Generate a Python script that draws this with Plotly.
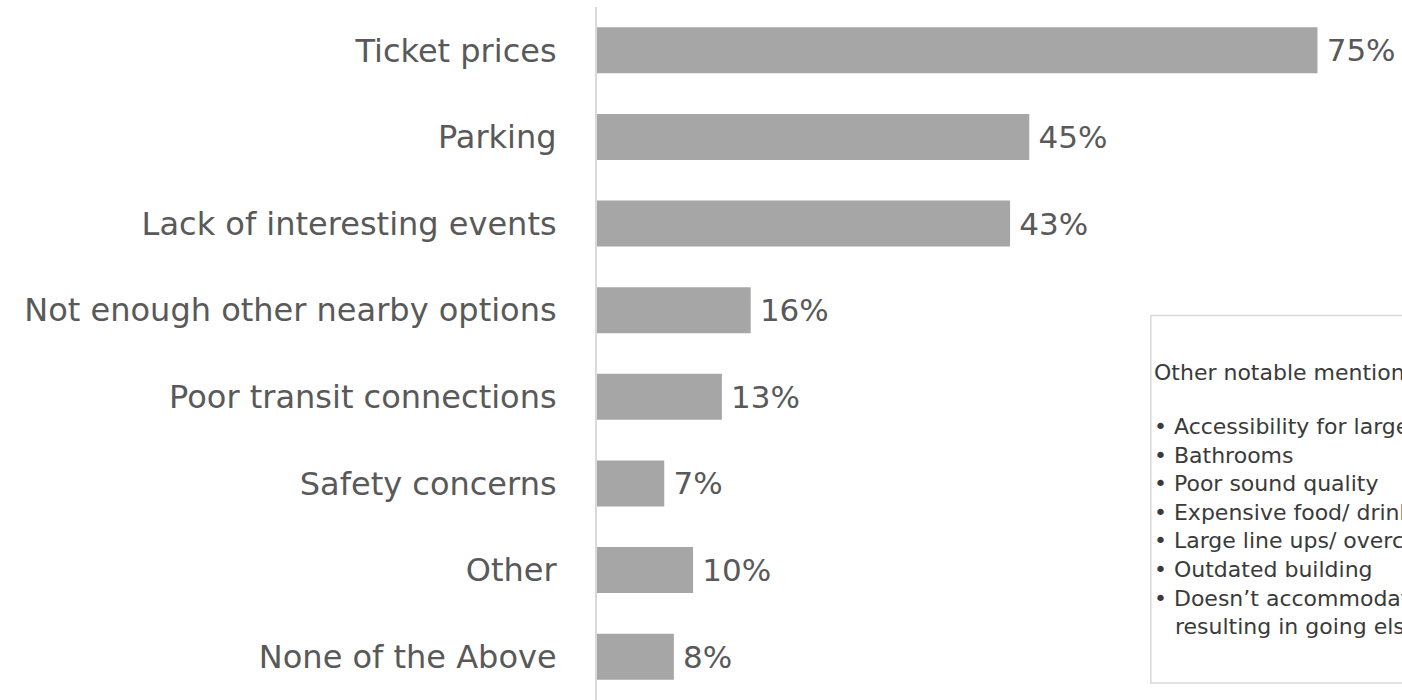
import plotly.graph_objects as go

# categories top to bottom as shown
categories = ["Ticket prices", "Parking", "Lack of interesting events",
              "Not enough other nearby options", "Poor transit connections",
              "Safety concerns", "Other", "None of the Above"]
values = [75, 45, 43, 16, 13, 7, 10, 8]

box_title = "Other notable mentions:"
box_items = [
    "Accessibility for large groups",
    "Bathrooms",
    "Poor sound quality",
    "Expensive food/ drinks",
    "Large line ups/ overcrowding",
    "Outdated building",
    "Doesn\u2019t accommodate late events",
]
box_tail = "resulting in going elsewhere"

label_font = dict(family="DejaVu Sans", size=32, color="#595959")
value_font = dict(family="DejaVu Sans", size=31, color="#595959")
box_font = dict(family="DejaVu Sans", size=22, color="#3a3a3a")

fig = go.Figure()
fig.add_trace(go.Bar(
    y=categories, x=values, orientation="h",
    marker=dict(color="#a6a6a6", line=dict(width=0)),
    text=[f"\u2009{v}%" for v in values], textposition="outside",
    textfont=value_font, cliponaxis=False, width=0.53,
    hoverinfo="skip",
))

fig.update_layout(
    width=1402, height=700,
    margin=dict(l=597, r=0, t=7, b=0),
    paper_bgcolor="white", plot_bgcolor="white",
    showlegend=False,
    xaxis=dict(range=[0, 83.8], visible=False),
    yaxis=dict(autorange="reversed", showline=True, linecolor="#d9d9d9", linewidth=2,
               ticks="", tickfont=label_font, ticklabelstandoff=32, showgrid=False),
)

# notes box on the right (runs off the edge)
fig.add_shape(type="rect", xref="paper", yref="paper",
              x0=0.688, x1=1.3, y0=0.0245, y1=0.555,
              line=dict(color="#d9d9d9", width=1.5), fillcolor="rgba(0,0,0,0)")
fig.add_annotation(xref="paper", yref="paper", x=0.689, y=0.472,
                   xanchor="left", yanchor="middle", showarrow=False,
                   text=box_title, font=box_font, align="left")
lines = ["\u2022 " + t for t in box_items] + ["   " + box_tail]
fig.add_annotation(xref="paper", yref="paper", x=0.689, y=0.416,
                   xanchor="left", yanchor="top", showarrow=False,
                   text="<br>".join(lines), font=box_font, align="left")

fig.write_html("out.html", config={"displayModeBar": False},
               post_script="document.body.style.margin='0';")
